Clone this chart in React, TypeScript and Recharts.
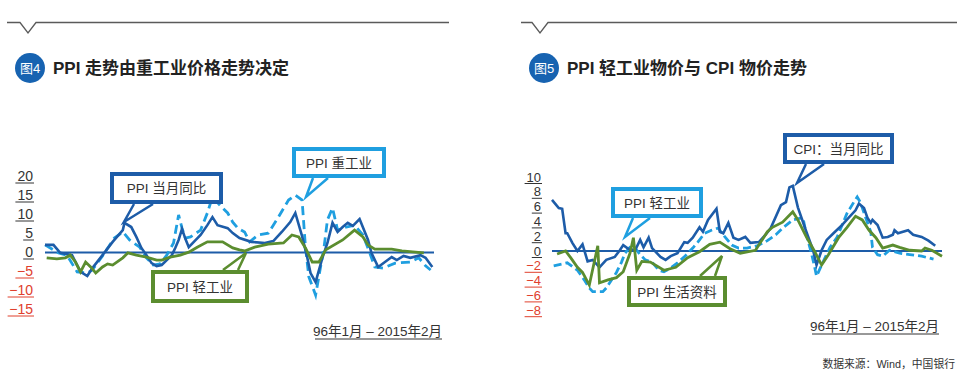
import React from 'react';
import { LineChart, Line, XAxis, YAxis, ReferenceLine } from 'recharts';

const DARK = '#1d5ca8';
const LIGHT = '#1f9fe0';
const GREEN = '#5b8d2f';
const RED = '#e0402d';
const TXT = '#333333';
const FONT = "'Liberation Sans','Noto Sans CJK SC',sans-serif";

// x = months since 1996-01 (0 = 96年1月, 229 = 2015年2月)
// ---- 图4 ----
const ppiMonths = [0,5,9,16,21,25,28,34,40,46,47,51,54,57,60,63,66,69,72,75,77,79,81,83,85,88,92,96,99,102,108,111,115,122,130,135,140,145,148,152,155,157,160,164,167,170,173,176,179,182,186,191,193,197,201,205,208,212,216,222,225,229];
const ppiValues = [2.0,2.0,-0.1,-0.7,-5.1,-6.2,-4.1,-0.7,2.8,5.9,7.8,6.7,4.1,1.2,-0.7,-2.8,-3.6,-3.3,-2.0,-0.7,1.2,3.3,6.2,3.6,1.4,2.8,4.6,7.2,9.3,7.2,6.4,5.1,3.8,2.8,2.5,3.0,5.4,8.0,10.4,4.3,-1.2,-5.4,-7.8,-1.4,2.5,7.8,5.4,6.7,7.8,7.0,8.8,3.3,-0.1,-3.8,-2.5,-1.2,-2.0,-0.9,-1.4,-0.7,-1.4,-3.8];

const heavyMonths = [0,8,13,19,25,28,34,41,46,47,50,56,60,64,68,72,76,79,81,83,86,92,96,99,105,108,111,114,118,121,126,132,138,144,148,152,154,156,160,165,167,170,173,178,183,188,192,195,200,207,216,221,225,228];
const heavyValues = [2.0,-0.1,-0.7,-5.1,-5.4,-4.6,-0.9,3.8,5.4,4.9,3.3,1.4,-1.4,-3.3,-3.0,-0.7,2.5,9.9,6.4,3.8,4.1,5.9,10.4,14.6,11.7,10.4,8.0,6.4,5.4,2.8,4.6,5.1,9.3,13.8,15.1,13.8,1.4,-6.4,-11.2,1.4,8.6,11.7,5.9,6.7,7.2,4.6,-0.1,-3.8,-4.1,-2.8,-2.5,-1.4,-3.5,-4.6];

const lightLMonths = [1,7,12,15,18,21,24,27,30,34,37,40,46,49,54,60,66,69,74,80,85,90,96,105,111,115,118,124,132,141,146,150,154,158,162,166,176,183,188,191,195,205,211,224];
const lightLValues = [-1.4,-1.7,-1.4,-0.7,-2.5,-5.1,-2.5,-3.8,-5.4,-3.8,-3.0,-3.3,-1.4,-0.1,-0.7,-1.2,-2.0,-2.0,-1.2,-0.7,0.1,1.4,2.8,2.8,1.2,0.7,0.4,1.4,2.2,2.5,4.6,4.1,1.2,-2.5,-2.5,0.7,3.3,5.9,4.1,2.0,0.9,0.9,0.4,-0.1];

const leftTicks = [20, 15, 10, 5, 0, -5, -10, -15];

// ---- 图5 ----
const cpiMonths = [0,4,6,8,9,12,15,18,21,24,28,32,37,40,42,45,49,52,54,57,59,64,67,70,74,78,80,83,87,89,92,97,99,101,104,107,110,114,117,122,126,129,135,138,140,142,145,150,154,156,159,162,166,171,175,179,181,184,186,188,189,192,195,198,201,202,204,210,213,218,222,226];
const cpiValues = [6.9,5.8,5.7,2.4,2.4,1.1,0.0,0.9,-1.4,-1.2,-2.2,-1.2,-0.8,0.1,0.8,0.3,0.1,1.5,0.5,1.8,0.4,-0.8,-1.2,-0.7,-0.3,1.2,1.1,1.8,3.2,2.6,4.2,5.7,2.6,2.4,3.8,1.8,1.5,1.9,1.1,1.2,2.2,3.1,6.2,6.6,8.6,8.8,5.9,2.6,0.1,-1.9,0.1,1.5,2.4,3.5,4.5,5.5,6.4,5.8,4.5,3.8,4.2,3.5,1.8,1.9,2.2,2.8,2.4,2.8,2.2,1.9,1.4,0.7];

const lightRMonths = [1,9,15,19,22,24,30,32,38,41,43,46,49,52,55,59,63,66,70,74,78,83,86,90,94,98,102,106,110,115,121,127,132,136,142,148,150,153,155,156,159,164,168,174,178,180,182,185,188,189,192,195,199,205,211,218,225];
const lightRValues = [-2.0,-1.6,-2.6,-3.9,-5.0,-5.5,-5.5,-5.0,-2.9,-1.5,-0.3,0.5,0.4,-0.5,-1.2,-1.5,-2.6,-2.8,-2.3,-1.6,-0.8,0.4,1.2,2.4,2.8,3.1,1.9,0.8,0.4,0.4,0.7,1.4,2.2,3.1,4.2,4.5,2.2,-0.3,-2.3,-3.4,-1.9,0.5,1.8,5.1,6.6,7.3,6.5,4.5,2.6,0.5,-0.5,-0.7,0.1,-0.3,-0.5,-0.7,-1.1];

const consMonths = [3,8,11,15,18,22,27,28,33,38,42,46,48,50,53,58,66,73,80,87,93,99,105,111,120,127,130,136,142,145,150,155,159,163,169,174,179,183,187,191,195,201,205,211,218,220,224,230];
const consValues = [-0.4,0.0,-0.9,-2.2,-2.9,-4.6,0.7,-4.3,-3.9,-3.6,-2.8,-0.3,1.8,-2.6,-1.4,-1.5,-2.6,-2.2,-0.9,-0.1,0.9,1.2,0.3,-0.3,0.1,2.6,3.2,3.9,5.3,4.2,1.9,-0.1,-1.9,-0.5,1.8,3.2,4.7,4.2,2.8,1.8,0.4,0.8,0.5,0.1,0.0,0.4,0.1,-0.7];

const rightTicks = [10, 8, 6, 4, 2, 0, -2, -4, -6, -8];

const zip = (ms: number[], vs: number[]) => ms.map((m, i) => ({ m, v: vs[i] }));

const makeTick = (rightEdge: number, fontSize: number, digitW: number) => (props: any) => {
  const { y, payload } = props;
  const v = payload.value as number;
  const neg = v < 0;
  const label = neg ? `\u2212${Math.abs(v)}` : `${v}`;
  const w = String(Math.abs(v)).length * digitW + (neg ? digitW : 0) + 2;
  const c = neg ? RED : TXT;
  return (
    <g>
      <text x={rightEdge} y={y + 4.5} textAnchor="end" fontSize={fontSize} fill={c} fontFamily={FONT}>{label}</text>
      <line x1={rightEdge - w} x2={rightEdge + 1} y1={y + 6.5} y2={y + 6.5} stroke={c} strokeWidth={1} />
    </g>
  );
};

const LeftTick = makeTick(33, 14, 7.8);
const RightTick = makeTick(61, 13, 7.2);

const Box = ({ x1, y1, x2, y2, color, label, tail }: any) => (
  <g>
    <rect x={x1 + 2} y={y1 + 2} width={x2 - x1 - 4} height={y2 - y1 - 4} fill="#fff" stroke={color} strokeWidth={4} />
    <text x={(x1 + x2) / 2} y={(y1 + y2) / 2 + 5} textAnchor="middle" fontSize={13.5} fill={TXT} fontFamily={FONT}>{label}</text>
    <polyline points={tail} fill="none" stroke={color} strokeWidth={2.5} />
  </g>
);

const Header = ({ x1, x2, notch, num, title }: any) => (
  <g>
    <polyline points={`${x1},22.5 ${notch},22.5 ${notch + 8},33 ${notch + 16},22.5 ${x2},22.5`} fill="none" stroke="#5a5a5a" strokeWidth={1.3} />
    <circle cx={x1 + 23} cy={68} r={15} fill="#1763b1" />
    <text x={x1 + 23} y={73} textAnchor="middle" fontSize={13} fill="#fff" fontFamily={FONT}>{num}</text>
    <text x={x1 + 46} y={74} fontSize={17} fontWeight="bold" fill="#222" fontFamily={FONT}>{title}</text>
  </g>
);

export default function App() {
  return (
    <div style={{ position: 'absolute', left: 0, top: 0, width: 967, height: 385, background: '#fff', overflow: 'hidden' }}>
      <div style={{ position: 'absolute', left: 0, top: 0 }}>
        <LineChart width={460} height={340} margin={{ top: 176.5, right: 26, bottom: 30.5, left: 0 }}>
          <XAxis dataKey="m" type="number" domain={[0, 230]} hide />
          <YAxis type="number" domain={[-15, 20]} ticks={leftTicks} interval={0} width={45} axisLine={false} tickLine={false} tick={LeftTick} />
          <ReferenceLine y={0} stroke={DARK} strokeWidth={2} />
          <Line data={zip(heavyMonths, heavyValues)} dataKey="v" type="linear" stroke={LIGHT} strokeWidth={2.8} strokeDasharray="9 5" dot={false} isAnimationActive={false} />
          <Line data={zip(ppiMonths, ppiValues)} dataKey="v" type="linear" stroke={DARK} strokeWidth={2.6} dot={false} isAnimationActive={false} />
          <Line data={zip(lightLMonths, lightLValues)} dataKey="v" type="linear" stroke={GREEN} strokeWidth={2.8} dot={false} isAnimationActive={false} />
        </LineChart>
      </div>
      <div style={{ position: 'absolute', left: 480, top: 0 }}>
        <LineChart width={487} height={340} margin={{ top: 177, right: 25, bottom: 29.8, left: 0 }}>
          <XAxis dataKey="m" type="number" domain={[0, 230]} hide />
          <YAxis type="number" domain={[-8, 10]} ticks={rightTicks} interval={0} width={72} axisLine={false} tickLine={false} tick={RightTick} />
          <ReferenceLine y={0} stroke={DARK} strokeWidth={2} />
          <Line data={zip(lightRMonths, lightRValues)} dataKey="v" type="linear" stroke={LIGHT} strokeWidth={2.8} strokeDasharray="8 4" dot={false} isAnimationActive={false} />
          <Line data={zip(cpiMonths, cpiValues)} dataKey="v" type="linear" stroke={DARK} strokeWidth={2.6} dot={false} isAnimationActive={false} />
          <Line data={zip(consMonths, consValues)} dataKey="v" type="linear" stroke={GREEN} strokeWidth={2.8} dot={false} isAnimationActive={false} />
        </LineChart>
      </div>
      <svg width={967} height={385} style={{ position: 'absolute', left: 0, top: 0, pointerEvents: 'none' }}>
        <Header x1={7} x2={449} notch={20} num="图4" title="PPI 走势由重工业价格走势决定" />
        <Header x1={521} x2={957} notch={532} num="图5" title="PPI 轻工业物价与 CPI 物价走势" />

        <Box x1={110} y1={172} x2={223} y2={204} color={DARK} label="PPI 当月同比" tail="134,204 124,222 153,204" />
        <Box x1={292} y1={147} x2={386} y2={178} color={LIGHT} label="PPI 重工业" tail="313,178 306,197 328,178" />
        <Box x1={151} y1={270} x2={249} y2={303} color={GREEN} label="PPI 轻工业" tail="223,270 246,253 238,270" />

        <Box x1={611} y1={187} x2={703} y2={218} color={LIGHT} label="PPI 轻工业" tail="633,218 625,237 650,218" />
        <Box x1={627} y1={276} x2={727} y2={307} color={GREEN} label="PPI 生活资料" tail="700,276 722,256 715,276" />
        <Box x1={783} y1={133} x2={894} y2={164} color={DARK} label="CPI：当月同比" tail="806,164 797,183 824,164" />

        <text x={442} y={336} textAnchor="end" fontSize={13.5} fill={TXT} fontFamily={FONT}>96年1月 – 2015年2月</text>
        <line x1={315} x2={442} y1={339} y2={339} stroke={TXT} strokeWidth={1} />
        <text x={939} y={331} textAnchor="end" fontSize={13.5} fill={TXT} fontFamily={FONT}>96年1月 – 2015年2月</text>
        <line x1={812} x2={939} y1={334} y2={334} stroke={TXT} strokeWidth={1} />
        <text x={955} y={368} textAnchor="end" fontSize={10.8} fill={TXT} fontFamily={FONT}>数据来源：Wind，中国银行</text>
      </svg>
    </div>
  );
}
